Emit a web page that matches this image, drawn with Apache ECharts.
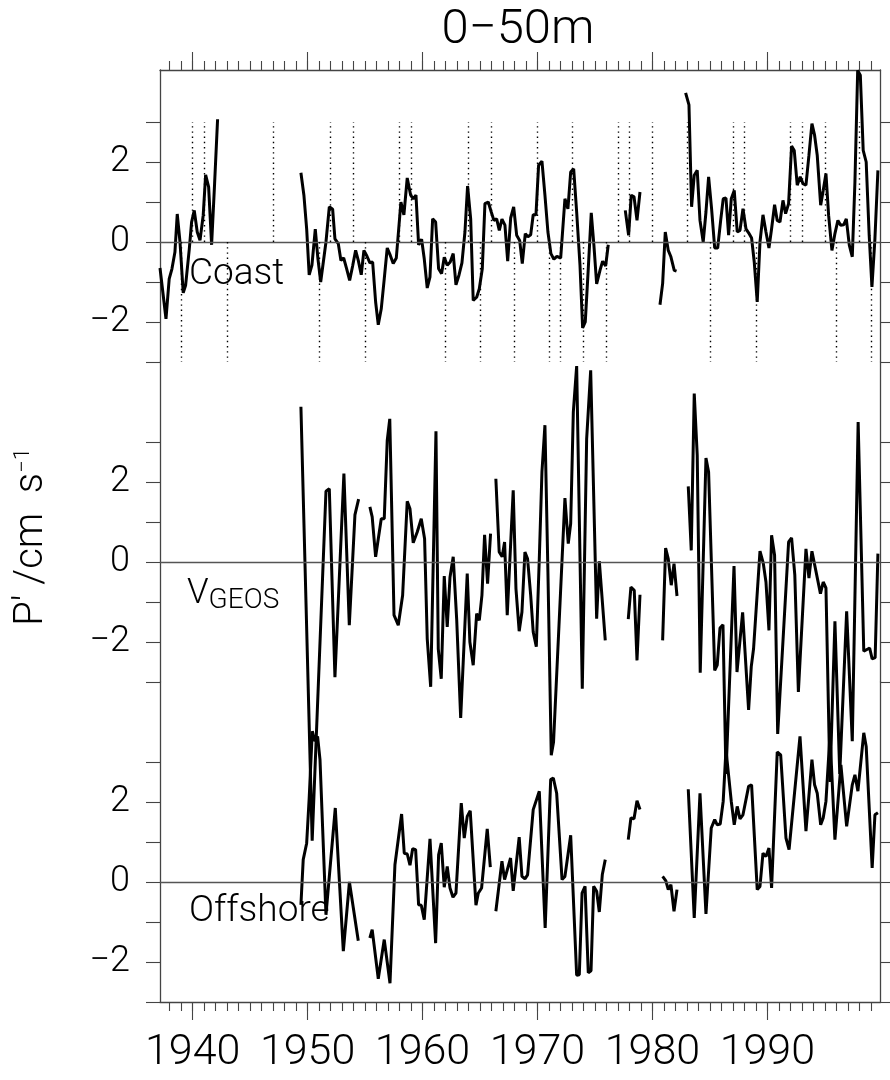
<!DOCTYPE html>
<html>
<head>
<meta charset="utf-8">
<script src="https://cdn.jsdelivr.net/npm/echarts@6/dist/echarts.min.js"></script>
<style>
html, body { margin: 0; padding: 0; background: #fff; }
#main { width: 890px; height: 1080px; }
</style>
</head>
<body>
<div id="main"></div>
<script>
// x range of the frame, in years
var xMin = 1937.16, xMax = 1999.845;

var decadeLabels = [1940, 1950, 1960, 1970, 1980, 1990];
var yTicks = [-3, -2, -1, 0, 1, 2, 3];
var yLabels = [-2, 0, 2];

// dotted markers in the coast panel
var warmYears = [1940, 1941, 1947, 1952, 1954, 1958, 1959, 1964, 1966, 1970, 1973, 1977, 1978, 1980, 1983, 1987, 1988, 1992, 1993, 1995, 1998];
var coldYears = [1939, 1943, 1951, 1955, 1962, 1965, 1968, 1971, 1972, 1974, 1976, 1985, 1989, 1996, 1999];

// Coast (null = gap)
var coastYear = [1937.16, 1937.68, 1937.96, 1938.2, 1938.46, 1938.66, 1938.9, 1939.18, 1939.39, 1939.71, 1939.91, 1940.14, 1940.4, 1940.64, 1940.92, 1941.13, 1941.39, 1941.65, 1941.91, 1942.17,
  1945,
  1949.42, 1949.68, 1949.92, 1950.14, 1950.38, 1950.67, 1950.9, 1951.14, 1951.37, 1951.6, 1951.89, 1952.18, 1952.38, 1952.67, 1952.9, 1953.14, 1953.4, 1953.66, 1953.92, 1954.18, 1954.41, 1954.67, 1954.9, 1955.16, 1955.42, 1955.66, 1955.92, 1956.15, 1956.41, 1956.67, 1956.93, 1957.19, 1957.45, 1957.72, 1958.12, 1958.38, 1958.67, 1958.97, 1959.19, 1959.43, 1959.66, 1959.92, 1960.15, 1960.41, 1960.65, 1960.88, 1961.14, 1961.4, 1961.66, 1961.89, 1962.15, 1962.41, 1962.67, 1962.91, 1963.17, 1963.43, 1963.69, 1963.92, 1964.19, 1964.41, 1964.71, 1964.94, 1965.2, 1965.43, 1965.72, 1965.98, 1966.21, 1966.45, 1966.68, 1966.91, 1967.17, 1967.41, 1967.67, 1967.93, 1968.19, 1968.45, 1968.68, 1968.94, 1969.17, 1969.41, 1969.63, 1969.87, 1970.1, 1970.39, 1970.65, 1970.91, 1971.17, 1971.43, 1971.69, 1972.02, 1972.39, 1972.65, 1972.89, 1973.15, 1973.41, 1973.7, 1973.93, 1974.16, 1974.42, 1974.68, 1974.91, 1975.15, 1975.44, 1975.67, 1975.93, 1976.16,
  1977,
  1977.64, 1977.93, 1978.16, 1978.4, 1978.66, 1978.92,
  1980,
  1980.66, 1980.89, 1981.12, 1981.38, 1981.61, 1981.9, 1982.1,
  1982.5,
  1982.89, 1983.18, 1983.41, 1983.64, 1983.9, 1984.14, 1984.42, 1984.66, 1984.89, 1985.15, 1985.42, 1985.68, 1985.94, 1986.16, 1986.4, 1986.63, 1986.86, 1987.12, 1987.38, 1987.62, 1987.88, 1988.14, 1988.37, 1988.63, 1988.86, 1989.12, 1989.36, 1989.62, 1989.88, 1990.14, 1990.37, 1990.63, 1990.86, 1991.1, 1991.36, 1991.59, 1991.85, 1992.11, 1992.34, 1992.6, 1992.86, 1993.1, 1993.36, 1993.62, 1993.88, 1994.11, 1994.34, 1994.64, 1994.86, 1995.1, 1995.33, 1995.62, 1995.88, 1996.14, 1996.38, 1996.64, 1996.87, 1997.13, 1997.39, 1997.62, 1997.86, 1998.09, 1998.34, 1998.6, 1998.86, 1999.1, 1999.36, 1999.62];
var coastVal = [-0.65, -1.92, -0.92, -0.67, -0.25, 0.7, 0.0, -1.27, -1.08, -0.17, 0.5, 0.79, 0.25, 0.04, 0.67, 1.68, 1.38, -0.07, 1.46, 3.07,
  null,
  1.73, 1.17, 0.33, -0.82, -0.58, 0.32, -0.42, -1.0, -0.5, 0.0, 0.88, 0.82, 0.08, -0.04, -0.46, -0.4, -0.67, -0.96, -0.6, -0.21, -0.46, -0.82, -0.21, -0.35, -0.52, -0.5, -1.5, -2.07, -1.67, -0.92, -0.15, -0.33, -0.54, -0.4, 1.0, 0.68, 1.6, 1.17, 1.08, 1.17, -0.07, 0.07, -0.42, -1.15, -0.87, 0.58, 0.5, -0.67, -0.79, -0.38, -0.58, -0.5, -0.29, -1.07, -0.83, -0.52, 0.25, 1.4, 0.58, -1.46, -1.38, -1.17, -0.67, 0.96, 1.0, 0.75, 0.54, 0.58, 0.29, 0.57, 0.42, -0.48, 0.6, 0.88, 0.17, 0.04, -0.54, 0.21, 0.13, 0.18, 0.68, 0.68, 1.92, 2.02, 1.17, 0.25, -0.29, -0.43, -0.36, -0.4, 1.08, 0.83, 1.75, 1.83, 0.75, -0.58, -2.15, -2.0, -0.67, 0.73, -0.08, -1.05, -0.71, -0.48, -0.6, -0.07,
  null,
  0.79, 0.17, 1.17, 1.13, 0.54, 1.25,
  null,
  -1.57, -1.04, 0.25, -0.21, -0.37, -0.71, -0.73,
  null,
  3.73, 3.43, 0.88, 1.67, 1.79, 0.54, 0.0, 0.75, 1.63, 0.83, -0.15, -0.15, 0.54, 1.08, 1.1, 0.17, 1.08, 1.29, 0.25, 0.29, 0.83, 0.33, 0.23, 0.1, -0.5, -1.5, 0.0, 0.68, 0.25, -0.15, 0.33, 0.93, 0.54, 0.5, 1.04, 0.71, 0.96, 2.4, 2.29, 1.42, 1.63, 1.46, 1.42, 2.17, 2.96, 2.67, 2.17, 0.92, 1.29, 1.71, 0.67, -0.21, 0.21, 0.54, 0.42, 0.43, 0.58, -0.08, -0.37, 1.5, 4.29, 4.17, 2.29, 2.0, 0.17, -1.12, 0.08, 1.79];

// V_GEOS
var vgeosYear = [1949.42, 1950.4, 1951.6, 1951.89, 1952.38, 1953.16, 1953.63, 1954.12, 1954.44,
  1954.9,
  1955.42, 1955.62, 1955.92, 1956.41, 1956.67, 1956.93, 1957.15, 1957.52, 1957.89, 1958.27, 1958.67, 1958.91, 1959.19, 1959.54, 1959.89, 1960.18, 1960.41, 1960.71, 1961.17, 1961.37, 1961.63, 1961.89, 1962.15, 1962.39, 1962.67, 1962.97, 1963.32, 1963.89, 1964.12, 1964.41, 1964.71, 1964.94, 1965.17, 1965.4, 1965.66, 1965.92,
  1966.1,
  1966.38, 1966.67, 1966.93, 1967.14, 1967.37, 1967.89, 1968.13, 1968.41, 1968.65, 1968.91, 1969.14, 1969.41, 1969.63, 1969.9, 1970.16, 1970.39, 1970.65, 1970.91, 1971.2, 1971.4, 1972.39, 1972.68, 1972.89, 1973.12, 1973.41, 1973.9, 1974.28, 1974.63, 1975.15, 1975.38, 1975.9,
  1977,
  1977.9, 1978.13, 1978.42, 1978.66, 1978.92,
  1980,
  1980.89, 1981.15, 1981.38, 1981.64, 1981.88, 1982.14,
  1982.6,
  1983.12, 1983.38, 1983.64, 1983.9, 1984.16, 1984.66, 1984.89, 1985.42, 1985.64, 1985.88, 1986.14, 1986.4, 1987.1, 1987.36, 1987.85, 1988.37, 1988.6, 1988.8, 1989.36, 1989.64, 1989.88, 1990.14, 1990.37, 1990.63, 1990.9, 1991.85, 1992.11, 1992.39, 1992.7, 1993.36, 1993.62, 1993.88, 1994.62, 1994.86, 1995.1, 1995.45, 1995.88, 1996.3, 1996.9, 1997.39, 1997.9, 1998.39, 1998.9, 1999.12, 1999.38, 1999.62];
var vgeosVal = [3.88, -6.97, 1.77, 1.83, -2.88, 2.21, -1.58, 1.18, 1.57,
  null,
  1.38, 1.13, 0.13, 1.08, 1.08, 3.04, 3.58, -1.33, -1.58, -0.83, 1.52, 1.33, 0.48, 0.75, 1.08, 0.58, -1.92, -3.12, 3.27, -2.17, -2.92, -0.35, -1.62, -0.38, 0.13, -1.42, -3.9, -0.29, -2.0, -2.58, -1.29, -1.46, -0.83, 0.68, -0.54, 0.71,
  null,
  2.08, 0.25, 0.13, 0.5, -1.33, 1.79, -0.67, -1.73, -1.25, 0.25, 0.08, -0.83, -1.75, -2.12, 0.08, 2.25, 3.42, -0.25, -4.83, -4.5, 1.6, 0.46, 0.96, 3.75, 4.9, -3.17, 3.08, 4.79, -1.42, 0.02, -1.96,
  null,
  -1.43, -0.63, -0.71, -2.46, -0.82,
  null,
  -1.96, 0.35, 0.08, -0.58, -0.04, -0.85,
  null,
  1.89, 0.29, 4.21, 2.67, -2.77, 2.6, 2.25, -2.71, -2.58, -1.65, -1.57, -5.3, -0.1, -2.75, -1.26, -3.7, -2.62, -2.17, 0.27, -0.02, -0.5, -1.71, 0.67, 0.17, -4.3, 0.5, 0.6, -0.33, -3.25, 0.33, -0.4, 0.27, -0.79, -0.5, -0.65, -5.5, -1.48, -5.3, -1.23, -4.48, 3.5, -2.23, -2.15, -2.42, -2.39, 0.21];

// Offshore
var offYear = [1949.42, 1949.62, 1949.92, 1950.14, 1950.41, 1950.64, 1950.87, 1951.08, 1951.6, 1952.41, 1953.11, 1953.64, 1954.41,
  1954.9,
  1955.42, 1955.62, 1956.15, 1956.67, 1957.17, 1957.6, 1958.18, 1958.41, 1958.67, 1958.91, 1959.14, 1959.4, 1959.66, 1959.89, 1960.15, 1960.65, 1961.14, 1961.4, 1961.63, 1961.89, 1962.15, 1962.39, 1962.65, 1962.91, 1963.37, 1963.63, 1963.89, 1964.15, 1964.65, 1964.85, 1965.14, 1965.63, 1965.9,
  1966.1,
  1966.38, 1966.91, 1967.14, 1967.66, 1967.89, 1968.41, 1968.65, 1968.91, 1969.14, 1969.63, 1970.16, 1970.67, 1971.15, 1971.38, 1971.67, 1972.14, 1972.39, 1972.89, 1973.41, 1973.64, 1973.88, 1974.14, 1974.42, 1974.66, 1974.89, 1975.15, 1975.38, 1975.64, 1975.9,
  1977,
  1977.9, 1978.13, 1978.4, 1978.66, 1978.92,
  1980,
  1980.89, 1981.17, 1981.38, 1981.61, 1981.88, 1982.14,
  1982.6,
  1983.12, 1983.64, 1984.14, 1984.66, 1985.12, 1985.42, 1985.64, 1985.9, 1986.16, 1986.4, 1986.86, 1987.12, 1987.38, 1987.62, 1987.88, 1988.37, 1988.63, 1989.12, 1989.36, 1989.62, 1989.88, 1990.14, 1990.37, 1990.86, 1991.16, 1991.62, 1991.89, 1992.84, 1993.36, 1993.88, 1994.11, 1994.34, 1994.64, 1994.86, 1995.1, 1995.45, 1995.88, 1996.4, 1996.9, 1997.39, 1997.62, 1997.88, 1998.39, 1998.6, 1999.12, 1999.36, 1999.62];
var offVal = [-0.57, 0.56, 0.97, 2.1, 3.77, 3.52, 3.64, 3.06, -0.82, 1.85, -1.73, 0.0, -1.47,
  null,
  -1.4, -1.19, -2.42, -1.44, -2.53, 0.43, 1.7, 0.72, 0.7, 0.42, 0.83, 0.81, -0.57, -0.58, -0.94, 1.08, -1.53, 0.68, 0.97, -0.13, 0.39, -0.15, -0.38, -0.28, 1.97, 1.1, 1.64, 1.78, -0.58, -0.28, -0.15, 1.33, 0.37,
  null,
  -0.73, 0.52, 0.06, 0.6, -0.22, 1.12, 0.14, 0.08, 0.18, 1.81, 2.27, -1.15, 2.56, 2.6, 2.22, 0.06, 0.14, 1.17, -2.33, -2.32, -0.28, -0.11, -2.27, -2.22, -0.11, -0.23, -0.75, 0.18, 0.56,
  null,
  1.06, 1.6, 1.58, 2.03, 1.81,
  null,
  0.14, 0.03, -0.19, -0.07, -0.73, -0.19,
  null,
  2.32, -0.9, 2.22, -0.8, 1.35, 1.56, 1.43, 1.45, 2.02, 3.31, 2.02, 1.43, 1.89, 1.58, 1.68, 2.39, 2.43, -0.19, -0.11, 0.72, 0.64, 0.85, -0.15, 3.25, 3.18, 1.1, 0.81, 3.64, 1.27, 3.06, 2.43, 2.22, 1.43, 1.6, 2.02, 3.68, 1.06, 2.93, 1.39, 2.43, 2.68, 2.27, 3.73, 3.39, 0.35, 1.68, 1.73];

var FONT = 'Roboto';
var AXIS = '#444';

function pairs(t, v) {
    return t.map(function (x, i) { return [x, v[i]]; });
}
function minusFmt(v) {
    return v < 0 ? '\u2212' + (-v) : String(v);
}
var yearTicks = [];
for (var y = 1938; y <= 1999; y++) yearTicks.push(y);

var panels = [
    {top: 70, height: 292, max: 4.3},
    {top: 362, height: 320, max: 5},
    {top: 682, height: 320, max: 5}
];

var chart = echarts.init(document.getElementById('main'));

var grids = panels.map(function (p) {
    return {left: 160, right: 9.5, top: p.top, height: p.height};
});

function xAx(grid, pos, ticks, len, line, labels) {
    return {
        type: 'value', gridIndex: grid, position: pos, min: xMin, max: xMax,
        axisLine: {show: line, onZero: false, lineStyle: {color: AXIS, width: 1.3}},
        axisTick: {show: true, inside: false, length: len, customValues: ticks, lineStyle: {color: AXIS, width: 1.1}},
        axisLabel: labels ? {show: true, customValues: decadeLabels, margin: 30, color: '#000',
            formatter: function (v) { return String(v); },
            fontFamily: FONT, fontWeight: 300, fontSize: 43} : {show: false},
        splitLine: {show: false}
    };
}

var xAxes = [
    xAx(0, 'top', yearTicks, 9, true, false),
    xAx(0, 'top', decadeLabels, 18, false, false),
    {type: 'value', gridIndex: 1, min: xMin, max: xMax, show: false},
    xAx(2, 'bottom', yearTicks, 9, true, false),
    xAx(2, 'bottom', decadeLabels, 18, false, true)
];

var yAxes = [];
panels.forEach(function (p, i) {
    yAxes.push({
        type: 'value', gridIndex: i, position: 'left', min: -3, max: p.max,
        axisLine: {show: true, onZero: false, lineStyle: {color: AXIS, width: 1.3}},
        axisTick: {show: true, inside: false, length: 14, customValues: yTicks, lineStyle: {color: AXIS, width: 1.1}},
        axisLabel: {show: true, customValues: yLabels, formatter: minusFmt, margin: 30, color: '#000',
            fontFamily: FONT, fontWeight: 300, fontSize: 36},
        splitLine: {show: false}
    });
    yAxes.push({
        type: 'value', gridIndex: i, position: 'right', min: -3, max: p.max,
        axisLine: {show: true, onZero: false, lineStyle: {color: AXIS, width: 1.3}},
        axisTick: {show: true, inside: false, length: 14, customValues: yTicks, lineStyle: {color: AXIS, width: 1.1}},
        axisLabel: {show: false},
        splitLine: {show: false}
    });
});

var zeroLine = {yAxis: 0, lineStyle: {type: 'solid', color: '#555', width: 1.4}};

var markers = [zeroLine];
warmYears.forEach(function (yr) {
    markers.push([{coord: [yr, 0]}, {coord: [yr, 3]}]);
});
coldYears.forEach(function (yr) {
    markers.push([{coord: [yr, 0]}, {coord: [yr, -3]}]);
});

function lineSeries(name, xi, yi, data, marks) {
    return {
        name: name, type: 'line', xAxisIndex: xi, yAxisIndex: yi,
        data: data, symbol: 'none', showSymbol: false, connectNulls: false,
        clip: false, silent: true,
        lineStyle: {color: '#000', width: 3},
        markLine: {
            symbol: ['none', 'none'], silent: true, animation: false,
            label: {show: false},
            lineStyle: {color: '#000', width: 1.4, type: [1.4, 3.8]},
            data: marks
        }
    };
}

var option = {
    animation: false,
    backgroundColor: '#fff',
    grid: grids,
    xAxis: xAxes,
    yAxis: yAxes,
    series: [
        lineSeries('Coast', 0, 0, pairs(coastYear, coastVal), markers),
        lineSeries('VGEOS', 2, 2, pairs(vgeosYear, vgeosVal), [zeroLine]),
        lineSeries('Offshore', 3, 4, pairs(offYear, offVal), [zeroLine])
    ],
    graphic: [
        {type: 'text', x: 518, y: 31, style: {text: '0\u221250m', font: '300 49px ' + FONT, fill: '#000',
            align: 'center', verticalAlign: 'middle'}},
        {type: 'text', x: 32, y: 537, rotation: Math.PI / 2,
            style: {text: "P' /cm  s{sup|\u22121}", font: '300 40px ' + FONT, fill: '#000',
                align: 'center', verticalAlign: 'middle',
                rich: {sup: {font: '300 22px ' + FONT, verticalAlign: 'top', padding: [0, 0, 18, 0]}}}},
        {type: 'text', x: 189, y: 256, style: {text: 'Coast', font: '300 37px ' + FONT, fill: '#000'}},
        {type: 'text', x: 187, y: 573, style: {text: 'V{sub|GEOS}', font: '300 35px ' + FONT, fill: '#000',
            rich: {sub: {font: '300 28px ' + FONT, padding: [14, 0, 0, 0]}}}},
        {type: 'text', x: 189, y: 893, style: {text: 'Offshore', font: '300 37px ' + FONT, fill: '#000'}}
    ]
};

chart.setOption(option);
</script>
</body>
</html>
